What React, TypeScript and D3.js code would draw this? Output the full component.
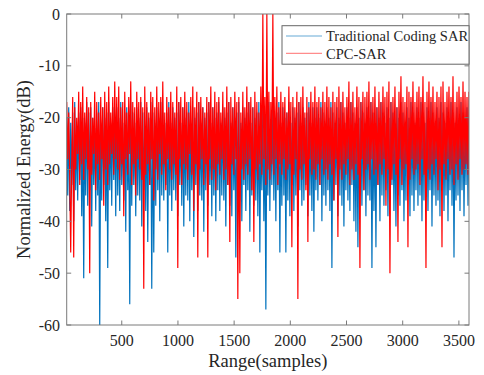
import React from "react";
import * as d3 from "d3";

// Sample range and ticks
const xDomain: [number, number] = [10, 3590];
const yDomain: [number, number] = [-60, 0];
const xTicks = [500, 1000, 1500, 2000, 2500, 3000, 3500];
const yTicks = [0, -10, -20, -30, -40, -50, -60];
const seriesNames = ["Traditional Coding SAR", "CPC-SAR"];

// Each character is -dB magnitude: 0-9 => 0..9, a-z => 10..35, A-Z => 36..61
const blueCodes = [
  "kziClxjEhymAjwiDkPlzhBjyiFkxmCjzhYlAixkEjNhylBiwkD",
  "izkChxlAjGiykUhBjxlDizkAhFjymCiIkxhRjKlBiykEhzjAlx",
  "jKhzlCiykAjDhxlBiFkzjAhElyiHkxjChzlAiGkyjBhxlDizkE",
  "jyhClziAkFjxhBlDiykLjzhAlEixkCjyhGlziBkAjDhKlyiEkV",
  "jzhClxiAkEjyhKlBizkKjAhDlxiCkzjFhylBiAkxjDhzlCiGky",
  "iAkxhEjzlBiykChNjAlxiDkzhBjFlyiAkChxjElGiJkzhBjylD",
  "izkAhNjClJixkEhzjBlyiDkAhxjClFizkBhyjElAixkDhzjCly",
  "iBkzhEjAlxiCkyhFjzlBiAkDhxjClziEkyhBjLlAizkChyjDlx",
  "iBk",
].join("");

const redCodes = [
  "hsjvKtgLiukrfxhtewjsguiOhvkrfyhtjwgsiBfuhxetjrgvds",
  "guewithDfsjvgrdxhtizfshugwiRevhtjxfsgAiuewhrgvdtjy",
  "gsiufwhtjveNhsgxitfuhwjrgveCitfLhugsixjtgLhsewiufy",
  "htgvjsfwiuexhIgtivfshTgOjufwitevhsgyiIfuhwjtev0sgx",
  "0ufwht0vgsexitfvhsgwjuethJgvisfThugwetjygIisfvhuew",
  "htgxisfvhuewgtivfAhsgHeuhwftivgsdxhufwitevgNhsfygu",
  "ftdwhsgveuixfthvesgBfudOhwgteviIfscxguhteJfwgsdvhu",
  "ftexgscvhNfudwgtevhsfygueJdthwfsevgucxhtfwesgvduft",
  "gvf",
].join("");

const ALPHA = "0123456789abcdefghijklmnopqrstuvwxyzABCDEFGHIJKLMNOPQRSTUVWXYZ";
const decode = (s: string) => s.split("").map((c) => -ALPHA.indexOf(c));

const blueValues = decode(blueCodes);
const redValues = decode(redCodes);

const W = 484;
const H = 375;
const M = { left: 66.7, right: 469, top: 14, bottom: 325 };
const FONT = "'Liberation Serif', 'Times New Roman', serif";

export default function App() {
  const x = d3.scaleLinear().domain(xDomain).range([M.left, M.right]);
  const y = d3.scaleLinear().domain(yDomain).range([M.bottom, M.top]);
  const sampleAt = (i: number, n: number) =>
    xDomain[0] + (i * (xDomain[1] - xDomain[0])) / (n - 1);
  const line = (vals: number[]) =>
    d3
      .line<number>()
      .x((_, i) => x(sampleAt(i, vals.length)))
      .y((v) => y(v))(vals) || "";

  const axisColor = "#7a7a7a";
  const textColor = "#262626";
  const tl = 4.5;

  return (
    <svg
      width={W}
      height={H}
      style={{ position: "absolute", left: 0, top: 0, background: "#fff" }}
    >
      <defs>
        <clipPath id="plotclip">
          <rect x={M.left} y={M.top} width={M.right - M.left} height={M.bottom - M.top} />
        </clipPath>
      </defs>
      <g clipPath="url(#plotclip)">
        <path d={line(blueValues)} fill="none" stroke="#0072BD" strokeWidth={1.2} strokeLinejoin="bevel" />
        <path d={line(redValues)} fill="none" stroke="#FF0000" strokeWidth={1.2} strokeLinejoin="bevel" />
      </g>
      {/* box */}
      <rect
        x={M.left}
        y={M.top}
        width={M.right - M.left}
        height={M.bottom - M.top}
        fill="none"
        stroke={axisColor}
        strokeWidth={1}
      />
      {/* x ticks */}
      {xTicks.map((t) => (
        <g key={"x" + t}>
          <line x1={x(t)} x2={x(t)} y1={M.bottom} y2={M.bottom - tl} stroke={axisColor} />
          <line x1={x(t)} x2={x(t)} y1={M.top} y2={M.top + tl} stroke={axisColor} />
          <text
            x={x(t)}
            y={346}
            textAnchor="middle"
            fontFamily={FONT}
            fontSize={16}
            fill={textColor}
          >
            {t}
          </text>
        </g>
      ))}
      {/* y ticks */}
      {yTicks.map((t) => (
        <g key={"y" + t}>
          <line x1={M.left} x2={M.left + tl} y1={y(t)} y2={y(t)} stroke={axisColor} />
          <line x1={M.right} x2={M.right - tl} y1={y(t)} y2={y(t)} stroke={axisColor} />
          <text
            x={60}
            y={y(t)}
            dy="0.35em"
            textAnchor="end"
            fontFamily={FONT}
            fontSize={16}
            fill={textColor}
          >
            {t}
          </text>
        </g>
      ))}
      {/* axis labels */}
      <text
        x={(M.left + M.right) / 2}
        y={367}
        textAnchor="middle"
        fontFamily={FONT}
        fontSize={18.5}
        fill={textColor}
      >
        Range(samples)
      </text>
      <text
        transform={`translate(24, ${(M.top + M.bottom) / 2}) rotate(-90)`}
        textAnchor="middle"
        dy="0.35em"
        fontFamily={FONT}
        fontSize={18.5}
        fill={textColor}
      >
        Normalized Energy(dB)
      </text>
      {/* legend */}
      <g>
        <rect x={282} y={25.7} width={187} height={38.5} fill="#fff" stroke="#666" strokeWidth={1} />
        <line x1={286} x2={322} y1={36} y2={36} stroke="#0072BD" strokeOpacity={0.6} strokeWidth={1.2} />
        <text x={326} y={36.3} dy="0.35em" fontFamily={FONT} fontSize={14.5} fill={textColor}>
          {seriesNames[0]}
        </text>
        <line x1={286} x2={322} y1={53.3} y2={53.3} stroke="#FF0000" strokeOpacity={0.45} strokeWidth={1.2} />
        <text x={326} y={53.5} dy="0.35em" fontFamily={FONT} fontSize={14.5} fill={textColor}>
          {seriesNames[1]}
        </text>
      </g>
    </svg>
  );
}
